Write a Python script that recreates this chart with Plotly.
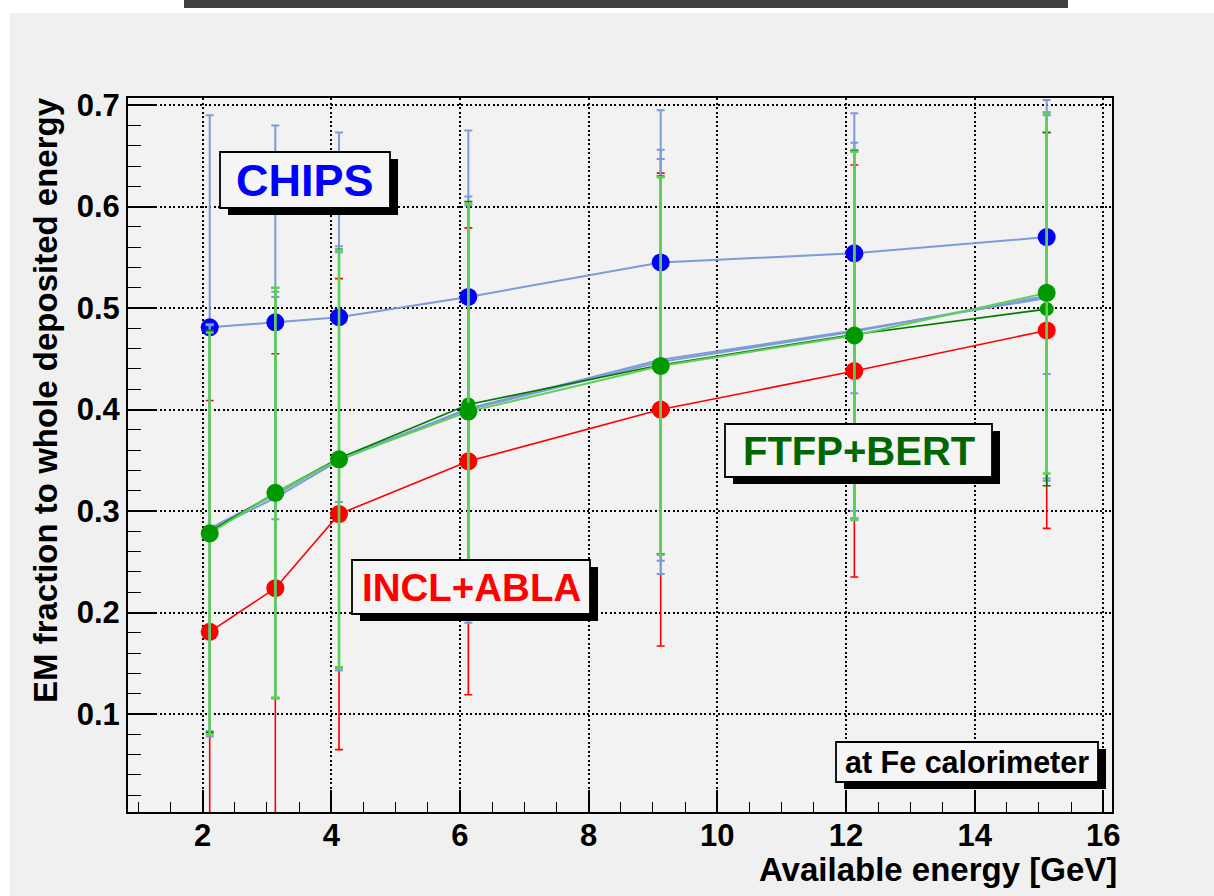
import plotly.graph_objects as go

# ---------------- data ----------------
energy = [2.11, 3.13, 4.12, 6.13, 9.12, 12.13, 15.12]

chips = [0.481, 0.486, 0.491, 0.511, 0.545, 0.554, 0.570]
chips_err = [0.209, 0.194, 0.182, 0.164, 0.150, 0.138, 0.135]

incl = [0.181, 0.224, 0.297, 0.349, 0.400, 0.438, 0.478]
incl_err = [0.228, 0.231, 0.232, 0.230, 0.233, 0.203, 0.195]

ftfp = [0.278, 0.318, 0.351, 0.398, 0.443, 0.473, 0.515]
ftfp_err = [0.198, 0.202, 0.206, 0.205, 0.186, 0.181, 0.178]

dkgreen = [0.280, 0.318, 0.352, 0.405, 0.444, 0.474, 0.499]
dkgreen_err = [0.198, 0.202, 0.206, 0.200, 0.186, 0.181, 0.174]

blue_a = [0.283, 0.316, 0.352, 0.400, 0.447, 0.477, 0.512]
blue_a_err = [0.200, 0.200, 0.209, 0.210, 0.209, 0.186, 0.180]

blue_b = [0.281, 0.313, 0.350, 0.401, 0.449, 0.478, 0.510]
blue_b_err = [0.203, 0.198, 0.205, 0.200, 0.198, 0.178, 0.180]

labels = ["CHIPS", "INCL+ABLA", "FTFP+BERT", "at Fe calorimeter"]
x_title = "Available energy [GeV]"
y_title = "EM fraction to whole deposited energy"

# ---------------- geometry helpers ----------------
W, H = 1214, 896
L, R, T, B = 128, 102, 98, 84
PW, PH = W - L - R, H - T - B


def px(x):
    return (x - L) / PW


def py(y):
    return (H - B - y) / PH


FONT = "Liberation Sans, Arial, sans-serif"
LBLUE = "#7d9bd6"
LGREEN = "#5fcf5a"
DGREEN = "#007a00"
MGREEN = "#009900"

fig = go.Figure()


def add(y, err, lcolor, lw, ecolor, ethick, mode, mcolor=None, msize=0):
    fig.add_trace(go.Scatter(
        x=energy, y=y, mode=mode,
        line=dict(color=lcolor, width=lw),
        marker=dict(color=mcolor, size=msize, line=dict(width=0)) if mcolor else None,
        error_y=dict(type="data", array=err, visible=True, color=ecolor,
                     thickness=ethick, width=4),
        showlegend=False,
    ))


add(chips, chips_err, LBLUE, 2, LBLUE, 2, "lines+markers", "#0000ff", 18)
add(incl, incl_err, "#ff0000", 1.6, "#ff0000", 1.6, "lines+markers", "#ff0000", 18)
add(blue_a, blue_a_err, LBLUE, 2, LBLUE, 2, "lines")
add(blue_b, blue_b_err, LBLUE, 2, LBLUE, 2, "lines")
add(dkgreen, dkgreen_err, DGREEN, 1.6, DGREEN, 1.6, "lines+markers", MGREEN, 14)
add(ftfp, ftfp_err, LGREEN, 2, LGREEN, 2.6, "lines+markers", MGREEN, 18)

shapes = []
# page decorations
shapes.append(dict(type="rect", xref="paper", yref="paper", x0=px(0), x1=px(W), y0=py(0), y1=py(13),
                   fillcolor="white", line=dict(width=0), layer="below"))
shapes.append(dict(type="rect", xref="paper", yref="paper", x0=px(0), x1=px(10), y0=py(0), y1=py(H),
                   fillcolor="white", line=dict(width=0), layer="below"))
shapes.append(dict(type="rect", xref="paper", yref="paper", x0=px(184), x1=px(1068), y0=py(0), y1=py(8),
                   fillcolor="#404040", line=dict(width=0)))

boxes = [
    ("CHIPS", (220, 152, 390, 208), "#0000ff", 45),
    ("INCL+ABLA", (352, 560, 590, 614), "#ff0000", 38.5),
    ("FTFP+BERT", (725, 424, 992, 477), "#006600", 40),
    ("at Fe calorimeter", (836, 742, 1098, 782), "#000000", 30.5),
]
annotations = []
for text, (x0, y0, x1, y1), col, fs in boxes:
    shapes.append(dict(type="rect", xref="paper", yref="paper",
                       x0=px(x0 + 8), x1=px(x1 + 8), y0=py(y0 + 7), y1=py(y1 + 7),
                       fillcolor="black", line=dict(width=0), layer="above"))
    shapes.append(dict(type="rect", xref="paper", yref="paper",
                       x0=px(x0), x1=px(x1), y0=py(y0), y1=py(y1),
                       fillcolor="#f5f5f5", line=dict(color="black", width=1.8), layer="above"))
    annotations.append(dict(text=text, xref="paper", yref="paper",
                            x=px((x0 + x1) / 2), y=py((y0 + y1) / 2),
                            xanchor="center", yanchor="middle", showarrow=False,
                            font=dict(family=FONT, size=fs, color=col, weight="bold")))

annotations.append(dict(text=x_title, xref="paper", yref="paper", x=px(1119), y=py(869),
                        xanchor="right", yanchor="middle", showarrow=False,
                        font=dict(family=FONT, size=33, color="black", weight="bold")))
annotations.append(dict(text=y_title, xref="paper", yref="paper", x=px(45), y=py(95),
                        xanchor="center", yanchor="top", textangle=-90, showarrow=False,
                        font=dict(family=FONT, size=33, color="black", weight="bold")))

grid = dict(showgrid=True, gridcolor="black", gridwidth=1.5, griddash="2px,2.5px",
            showline=True, linecolor="black", linewidth=2, mirror=True,
            ticks="inside", tickcolor="black", tickwidth=1.6, zeroline=False,
            tickfont=dict(family=FONT, size=31, color="black", weight="bold"))

fig.update_layout(
    width=W, height=H, autosize=False,
    margin=dict(l=L, r=R, t=T, b=B, pad=0),
    paper_bgcolor="#f0f0f0", plot_bgcolor="#f2f2f2",
    shapes=shapes, annotations=annotations,
    xaxis=dict(range=[0.84, 16.135], tick0=0, dtick=2, ticklen=22, ticklabelstandoff=-5,
               minor=dict(dtick=0.5, ticks="inside", ticklen=10, tickcolor="black",
                          tickwidth=1.4, showgrid=False),
               **grid),
    yaxis=dict(range=[0.0035, 0.707], tick0=0, dtick=0.1, ticklen=27, tickformat=".1f",
               minor=dict(dtick=0.02, ticks="inside", ticklen=13, tickcolor="black",
                          tickwidth=1.4, showgrid=False),
               **grid),
)

fig.write_html("out.html", config={"displayModeBar": False},
               post_script="document.body.style.margin='0px';")
